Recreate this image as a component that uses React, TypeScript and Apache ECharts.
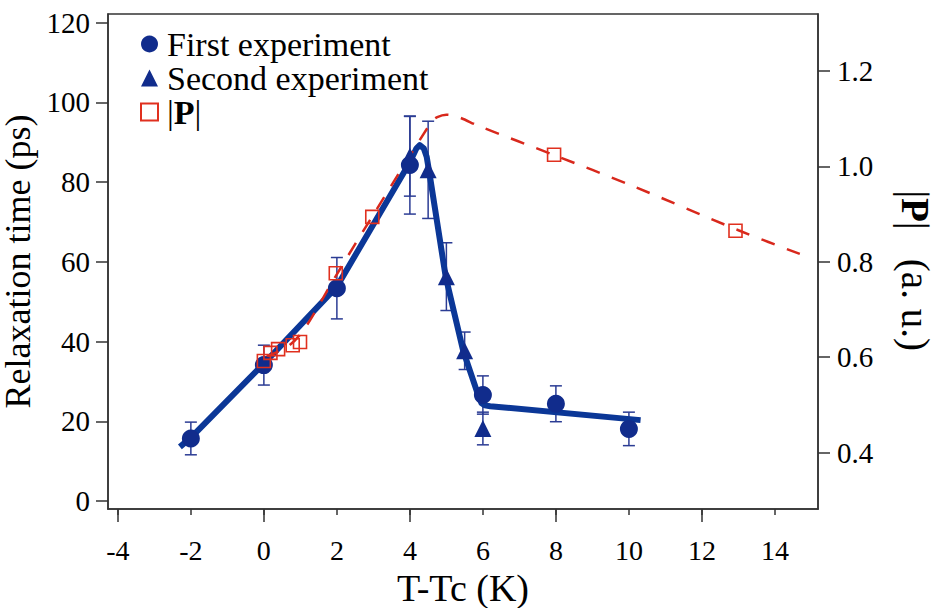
import React, { useEffect, useRef } from "react";
import * as echarts from "echarts";

// ---- data ----
const firstX = [-2, 0, 2, 4, 6, 8, 10];
const firstY = [15.7, 34.1, 53.4, 84.3, 26.6, 24.4, 18.1];
const firstErr = [4.1, 5.0, 7.7, 12.3, 4.8, 4.5, 4.2];

const secondX = [4, 4.5, 5, 5.5, 6];
const secondY = [86.5, 83.1, 56.3, 37.7, 18.2];
const secondErr = [10, 12.2, 8.5, 4.7, 4.1];

const pX = [0, 0.18, 0.39, 0.79, 0.99, 1.97, 2.97, 7.95, 12.92];
const pY = [0.592, 0.609, 0.617, 0.625, 0.632, 0.776, 0.894, 1.024, 0.865];

const fitX = [-2.3, -2, 0, 2, 4, 4.18, 4.27, 4.38, 4.46, 4.55, 4.98, 5.46, 5.87, 5.96, 6.05, 6.2, 10.32];
const fitY = [13.6, 15.9, 34.5, 53.8, 85.0, 88.5, 89.3, 88.5, 86.4, 81.4, 56.3, 37.7, 26.6, 24.6, 24.0, 23.8, 20.3];

const theoryX = [0.05, 0.4, 0.7, 1.0, 1.3, 1.97, 2.97, 4.59, 4.75, 5.0, 5.3, 5.9, 8, 10, 13, 14.9];
const theoryY = [0.6, 0.612, 0.625, 0.648, 0.682, 0.77, 0.895, 1.093, 1.103, 1.108, 1.104, 1.084, 1.022, 0.962, 0.866, 0.81];

const xTicks = [-4, -2, 0, 2, 4, 6, 8, 10, 12, 14];
const xMajorTicks = [-4, 0, 4, 8, 12];
const yLeftTicks = [0, 20, 40, 60, 80, 100, 120];
const yRightTicks = [0.4, 0.6, 0.8, 1.0, 1.2];

const FONT = "Liberation Serif";
const BLUE_LINE = "#0b3797";
const BLUE_MARK = "#112c8c";
const BLUE_ERR = "#2b3c94";
const RED = "#e0301f";
const AXIS = "#333";

const zip = (a: number[], b: number[]) => a.map((v, i) => [v, b[i]]);
const errData = (xs: number[], ys: number[], es: number[]) =>
  xs.map((x, i) => [x, ys[i] - es[i], ys[i] + es[i]]);

const errRender = (params: any, api: any) => {
  const x = api.value(0);
  const lo = api.coord([x, api.value(1)]);
  const hi = api.coord([x, api.value(2)]);
  const w = 6;
  const style = { stroke: BLUE_ERR, lineWidth: 1.5, fill: "none" };
  return {
    type: "group",
    children: [
      { type: "line", shape: { x1: lo[0], y1: lo[1], x2: hi[0], y2: hi[1] }, style },
      { type: "line", shape: { x1: lo[0] - w, y1: lo[1], x2: lo[0] + w, y2: lo[1] }, style },
      { type: "line", shape: { x1: hi[0] - w, y1: hi[1], x2: hi[0] + w, y2: hi[1] }, style },
    ],
  };
};

export default function App() {
  const ref = useRef<HTMLDivElement>(null);
  useEffect(() => {
    if (!ref.current) return;
    const chart = echarts.init(ref.current, undefined, { renderer: "svg" });
    const xMin = -4.27;
    const xMax = 15.18;
    chart.setOption({
      animation: false,
      backgroundColor: "#fff",
      textStyle: { fontFamily: FONT },
      grid: {
        left: 108,
        right: 118,
        top: 14,
        bottom: 99,
        containLabel: false,
        outerBoundsMode: "none",
        show: true,
        borderColor: AXIS,
        borderWidth: 1.5,
        backgroundColor: "transparent",
      },
      legend: {
        orient: "vertical",
        left: 140,
        top: 27,
        padding: 0,
        itemWidth: 17,
        itemHeight: 17,
        itemGap: 0,
        selectedMode: false,
        data: ["First experiment", "Second experiment", "|P|"],
        formatter: (name: string) => (name === "|P|" ? "|{b|P}|" : name),
        textStyle: {
          fontFamily: FONT,
          fontSize: 34,
          color: "#000",
          lineHeight: 31,
          padding: [0, 0, 0, 4],
          rich: {
            b: { fontFamily: FONT, fontSize: 34, fontWeight: "bold", color: "#000", lineHeight: 31 },
          },
        },
      },
      xAxis: [
        {
          type: "value",
          min: xMin,
          max: xMax,
          position: "bottom",
          name: "T-Tc (K)",
          nameLocation: "middle",
          nameGap: 57,
          nameTextStyle: { fontFamily: FONT, fontSize: 38, color: "#000", lineHeight: 38 },
          axisLine: { show: true, onZero: false, lineStyle: { color: AXIS, width: 1.5 } },
          axisTick: { show: true, customValues: xTicks, length: 6, lineStyle: { color: AXIS, width: 1.5 } },
          axisLabel: {
            customValues: xTicks,
            fontFamily: FONT,
            fontSize: 28,
            color: "#000",
            margin: 27,
          },
          splitLine: { show: false },
        },
        {
          type: "value",
          min: xMin,
          max: xMax,
          position: "bottom",
          axisLine: { show: false, onZero: false },
          axisTick: { show: true, customValues: xMajorTicks, length: 13, lineStyle: { color: AXIS, width: 1.5 } },
          axisLabel: { show: false },
          splitLine: { show: false },
        },
      ],
      yAxis: [
        {
          type: "value",
          min: -2,
          max: 122.2,
          position: "left",
          name: "Relaxation time (ps)",
          nameLocation: "middle",
          nameGap: 46,
          nameTextStyle: { fontFamily: FONT, fontSize: 36, color: "#000", lineHeight: 36 },
          axisLine: { show: true, onZero: false, lineStyle: { color: AXIS, width: 1.5 } },
          axisTick: { show: true, customValues: yLeftTicks, length: 12, lineStyle: { color: AXIS, width: 1.5 } },
          axisLabel: {
            customValues: yLeftTicks,
            fontFamily: FONT,
            fontSize: 29,
            color: "#000",
            margin: 18,
          },
          splitLine: { show: false },
        },
        {
          type: "value",
          min: 0.282,
          max: 1.319,
          position: "right",
          name: "|{b|P}|   (a. u.)",
          nameLocation: "middle",
          nameRotate: -90,
          nameGap: 78,
          nameTextStyle: {
            fontFamily: FONT,
            fontSize: 39,
            color: "#000",
            padding: [0, 0, 0, 18],
            rich: { b: { fontFamily: FONT, fontSize: 39, fontWeight: "bold", color: "#000" } },
          },
          axisLine: { show: true, onZero: false, lineStyle: { color: AXIS, width: 1.5 } },
          axisTick: { show: true, customValues: yRightTicks, length: 12, lineStyle: { color: AXIS, width: 1.5 } },
          axisLabel: {
            customValues: yRightTicks,
            formatter: (v: number) => v.toFixed(1),
            fontFamily: FONT,
            fontSize: 29,
            color: "#000",
            margin: 19,
          },
          splitLine: { show: false },
        },
      ],
      series: [
        {
          type: "custom",
          name: "errFirst",
          xAxisIndex: 0,
          yAxisIndex: 0,
          renderItem: errRender,
          data: errData(firstX, firstY, firstErr),
          z: 2,
          silent: true,
        },
        {
          type: "custom",
          name: "errSecond",
          xAxisIndex: 0,
          yAxisIndex: 0,
          renderItem: errRender,
          data: errData(secondX, secondY, secondErr),
          z: 2,
          silent: true,
        },
        {
          type: "line",
          name: "fit",
          xAxisIndex: 0,
          yAxisIndex: 0,
          data: zip(fitX, fitY),
          showSymbol: false,
          symbol: "none",
          smooth: false,
          lineStyle: { color: BLUE_LINE, width: 6, cap: "butt", join: "round" },
          z: 3,
          silent: true,
        },
        {
          type: "line",
          name: "theory",
          xAxisIndex: 0,
          yAxisIndex: 1,
          data: zip(theoryX, theoryY),
          showSymbol: false,
          symbol: "none",
          smooth: 0.3,
          lineStyle: { color: "#d8281c", width: 2.5, type: [14, 13] },
          z: 3,
          silent: true,
        },
        {
          type: "scatter",
          name: "First experiment",
          xAxisIndex: 0,
          yAxisIndex: 0,
          symbol: "circle",
          symbolSize: 18,
          itemStyle: { color: BLUE_MARK, opacity: 1 },
          data: zip(firstX, firstY),
          z: 5,
        },
        {
          type: "scatter",
          name: "Second experiment",
          xAxisIndex: 0,
          yAxisIndex: 0,
          symbol: "triangle",
          symbolSize: 17,
          itemStyle: { color: BLUE_MARK, opacity: 1 },
          data: zip(secondX, secondY),
          z: 5,
        },
        {
          type: "scatter",
          name: "|P|",
          xAxisIndex: 0,
          yAxisIndex: 1,
          symbol: "rect",
          symbolSize: 13,
          itemStyle: { color: "rgba(255,255,255,0)", borderColor: RED, borderWidth: 1.6, opacity: 1 },
          data: zip(pX, pY),
          z: 6,
        },
      ],
    });
    return () => chart.dispose();
  }, []);
  return (
    <div
      ref={ref}
      style={{ position: "fixed", left: 0, top: 0, width: 936, height: 608 }}
    />
  );
}
